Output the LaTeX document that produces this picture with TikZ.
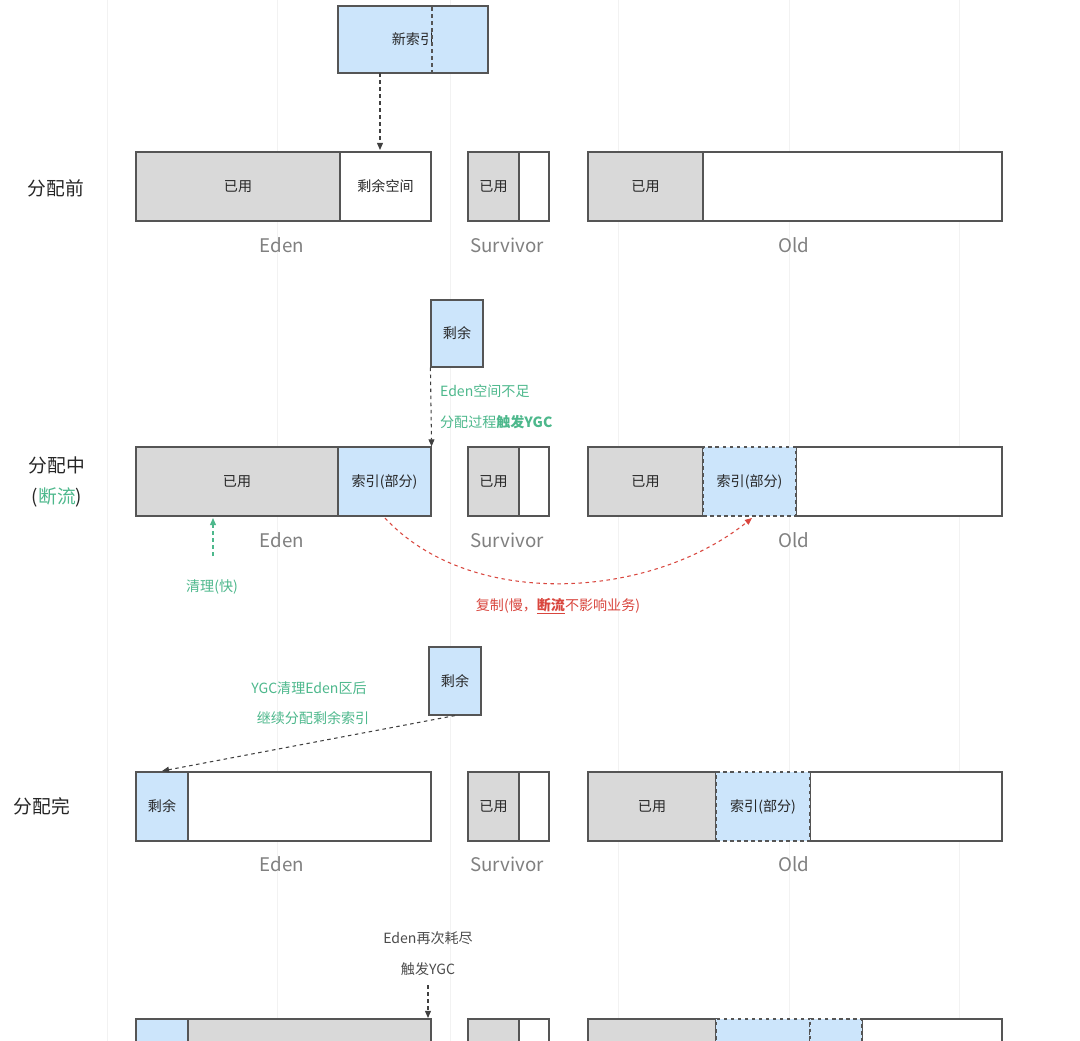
\documentclass[tikz,border=0pt]{standalone}
\usepackage{fontspec}
\setmainfont{Noto Sans CJK SC}
\usetikzlibrary{fit, arrows.meta}
\definecolor{usedgray}{HTML}{D9D9D9}
\definecolor{idxblue}{HTML}{CCE5FB}
\definecolor{edgegray}{HTML}{555555}
\definecolor{notegreen}{HTML}{4DB88C}
\definecolor{notered}{HTML}{D9463E}
\definecolor{areagray}{HTML}{808080}

\begin{document}
\begin{tikzpicture}[x=0.03cm, y=-0.03cm,
    cell/.style={draw=edgegray, line width=1pt, inner sep=0pt},
    used/.style={cell, fill=usedgray},
    free/.style={cell, fill=white},
    idx/.style={cell, fill=idxblue},
    moved/.style={cell, fill=idxblue, dashed},
    every label/.style={font=\fontsize{12}{14}\selectfont, text=black!85, inner sep=0pt},
    area/.style={text=areagray, font=\fontsize{16}{18}\selectfont},
    rowlabel/.style={font=\fontsize{16}{19}\selectfont, text=black!85},
    note/.style={font=\fontsize{12}{14}\selectfont},
    flow/.style={-{Triangle[length=6pt,width=5pt]}, dashed, line width=0.9pt}]

    % background and faint grid
    \useasboundingbox (0,0) rectangle (1080,1041);
    \fill[white] (0,0) rectangle (1080,1041);
    \foreach \gx in {107,277,450,618,789,959}
        \draw[black!5] (\gx,0) -- (\gx,1041);

    % new index block
    \node[idx, fit={(338,6) (488,73)}, label=center:新索引] (newidx) {};
    \draw[dashed, edgegray, line width=1pt] (432,7) -- (432,72);

    % row 1: before allocation
    \node[rowlabel] (lab1) at (56,188) {分配前};
    \node[used, fit={(136,152) (340,221)}, label=center:已用] (e1u) {};
    \node[free, fit={(340,152) (431,221)}, label=center:剩余空间] (e1f) {};
    \node[used, fit={(468,152) (519,221)}, label=center:已用] (s1u) {};
    \node[free, fit={(519,152) (549,221)}] (s1f) {};
    \node[used, fit={(588,152) (703,221)}, label=center:已用] (o1u) {};
    \node[free, fit={(703,152) (1002,221)}] (o1f) {};
    \node[area] at (282,245) {Eden};
    \node[area] at (507,245) {Survivor};
    \node[area] at (794,245) {Old};
    \coordinate (in1) at (380,73);
    \draw[flow, black!75] (in1) -- (380,150);

    % row 2: allocating (flow stopped)
    \node[rowlabel] (lab2) at (57,465) {分配中};
    \node[rowlabel] (lab2b) at (57,497) {(\textcolor{notegreen}{断流})};
    \node[used, fit={(136,447) (338,516)}, label=center:已用] (e2u) {};
    \node[idx, fit={(338,447) (431,516)}, label=center:索引(部分)] (e2i) {};
    \node[used, fit={(468,447) (519,516)}, label=center:已用] (s2u) {};
    \node[free, fit={(519,447) (549,516)}] (s2f) {};
    \node[free, fit={(796,447) (1002,516)}] (o2f) {};
    \node[used, fit={(588,447) (703,516)}, label=center:已用] (o2u) {};
    \node[moved, fit={(703,447) (796,516)}, label=center:索引(部分)] (o2i) {};
    \node[area] at (282,540) {Eden};
    \node[area] at (507,540) {Survivor};
    \node[area] at (794,540) {Old};
    \node[idx, fit={(431,300) (483,367)}, label=center:剩余] (rest2) {};
    \draw[flow, black!75] (rest2.south west) -- (e2i.north east);
    \node[note, text=notegreen, anchor=west] at (436,391) {Eden空间不足};
    \node[note, text=notegreen, anchor=west] at (436,422) {分配过程\textbf{触发YGC}};
    \node[note, text=notegreen] (clean) at (212,587) {清理(快)};
    \draw[flow, notegreen] (213,556) -- (213,518);
    \draw[flow, notered] (385,518) .. controls (470,610) and (650,600) .. (752,518);
    \node[note, text=notered] (copy) at (558,606) {复制(慢，\underline{\textbf{断流}}不影响业务)};

    % row 3: allocation done
    \node[rowlabel] (lab3) at (42,806) {分配完};
    \node[free, fit={(188,772) (431,841)}] (e3f) {};
    \node[idx, fit={(136,772) (188,841)}, label=center:剩余] (e3i) {};
    \node[used, fit={(468,772) (519,841)}, label=center:已用] (s3u) {};
    \node[free, fit={(519,772) (549,841)}] (s3f) {};
    \node[free, fit={(810,772) (1002,841)}] (o3f) {};
    \node[used, fit={(588,772) (716,841)}, label=center:已用] (o3u) {};
    \node[moved, fit={(716,772) (810,841)}, label=center:索引(部分)] (o3i) {};
    \node[area] at (282,864) {Eden};
    \node[area] at (507,864) {Survivor};
    \node[area] at (794,864) {Old};
    \node[idx, fit={(429,647) (481,715)}, label=center:剩余] (rest3) {};
    \draw[flow, black!75] (rest3.south) -- (162,771);
    \node[note, text=notegreen] at (309,688) {YGC清理Eden区后};
    \node[note, text=notegreen] at (313,718) {继续分配剩余索引};

    % row 4: eden exhausted again
    \node[used, fit={(188,1019) (431,1060)}] (e4u) {};
    \node[idx, fit={(136,1019) (188,1060)}] (e4i) {};
    \node[used, fit={(468,1019) (519,1060)}] (s4u) {};
    \node[free, fit={(519,1019) (549,1060)}] (s4f) {};
    \node[free, fit={(862,1019) (1002,1060)}] (o4f) {};
    \node[used, fit={(588,1019) (716,1060)}] (o4u) {};
    \node[moved, fit={(716,1019) (810,1060)}] (o4i) {};
    \node[moved, fit={(810,1019) (862,1060)}] (o4j) {};
    \node[note, text=black!70] at (428,938) {Eden再次耗尽};
    \node[note, text=black!70] (ygc4) at (428,969) {触发YGC};
    \coordinate (hit4) at (428,1018);
    \draw[flow, black!75] (428,985) -- (hit4);
\end{tikzpicture}
\end{document}
